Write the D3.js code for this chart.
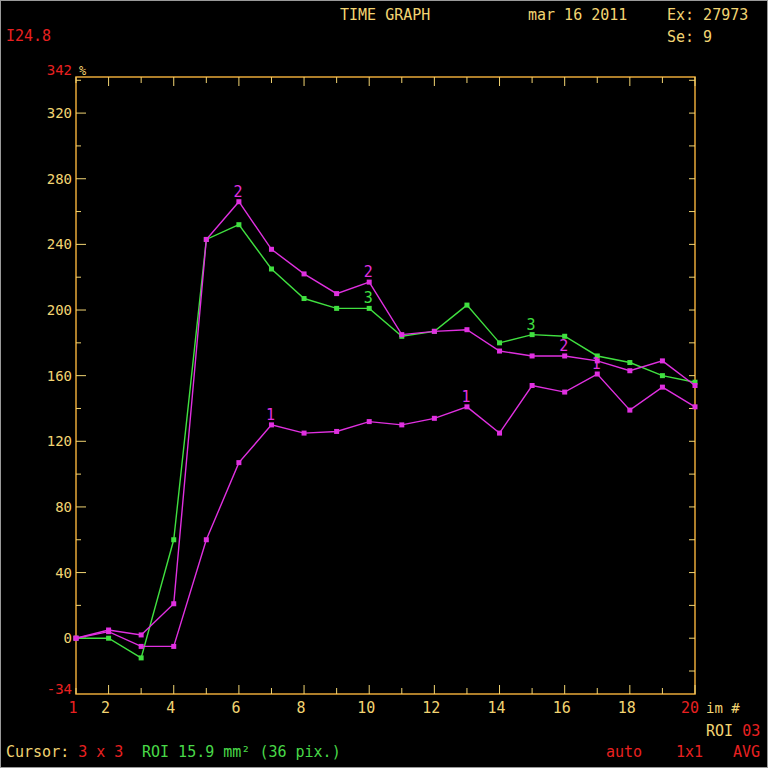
<!DOCTYPE html>
<html><head><meta charset="utf-8">
<script src="https://cdn.jsdelivr.net/npm/d3@7"></script>
<style>
html,body{margin:0;padding:0;background:#000;}
svg{display:block;}
text{font-family:"DejaVu Sans Mono",monospace;}
</style></head>
<body>
<script>
// ---- data ----
const imNumbers = [1,2,3,4,5,6,7,8,9,10,11,12,13,14,15,16,17,18,19,20];
const xTickLabels = [2,4,6,8,10,12,14,16,18];
const yTickLabels = [0,40,80,120,160,200,240,280,320];
const yMin = -34, yMax = 342;
const series1 = [0,4,-5,-5,60,107,130,125,126,132,130,134,141,125,154,150,161,139,153,141];
const series2 = [0,5,2,21,243,266,237,222,210,217,185,187,188,175,172,172,169,163,169,154];
const series3 = [0,0,-12,60,243,252,225,207,201,201,184,187,203,180,185,184,172,168,160,156];
const seriesNames = ["1","2","3"];
const labelAt1 = [7,13,17];
const labelAt2 = [6,10,16];
const labelAt3 = [10,15];

const W = 768, H = 768;
const YEL = "#f2d472", AX = "#e8a838", RED = "#e82020", GRN = "#48d848", MAG = "#e030e0", LGRN = "#40e040";

const svg = d3.select("body").append("svg").attr("width", W).attr("height", H);
svg.append("rect").attr("x",0.5).attr("y",0.5).attr("width",W-1).attr("height",H-1).attr("fill","#000").attr("stroke","#9a9a9a");

const x = d3.scaleLinear().domain([1,20]).range([76,695]);
const y = d3.scaleLinear().domain([yMin,yMax]).range([694,77]);

// frame
const g = svg.append("g");
g.append("rect").attr("x",x(1)).attr("y",y(yMax)).attr("width",x(20)-x(1)).attr("height",y(yMin)-y(yMax))
 .attr("fill","none").attr("stroke",AX).attr("stroke-width",1.5);

// x ticks top & bottom
imNumbers.forEach(n=>{
  const major = n%2===0;
  const len = major?9:6;
  g.append("line").attr("x1",x(n)).attr("x2",x(n)).attr("y1",y(yMin)).attr("y2",y(yMin)-len).attr("stroke",YEL).attr("stroke-width",1);
  g.append("line").attr("x1",x(n)).attr("x2",x(n)).attr("y1",y(yMax)).attr("y2",y(yMax)+len).attr("stroke",YEL).attr("stroke-width",1);
});
// y ticks left (major/minor) and right
d3.range(-20,341,20).forEach(v=>{
  const major = v%40===0;
  if (v>=0) {
    g.append("line").attr("x1",x(1)).attr("x2",x(1)+(major?10:5)).attr("y1",y(v)).attr("y2",y(v)).attr("stroke",YEL).attr("stroke-width",1);
  }
  g.append("line").attr("x1",x(20)).attr("x2",x(20)-6).attr("y1",y(v)).attr("y2",y(v)).attr("stroke",YEL).attr("stroke-width",1);
});

// y labels
yTickLabels.forEach(v=>{
  g.append("text").attr("x",72).attr("y",y(v)).attr("dy","0.36em").attr("text-anchor","end")
   .attr("fill",YEL).attr("font-size",14).text(v);
});
g.append("text").attr("x",72).attr("y",y(yMin)-5).attr("dy","0.36em").attr("text-anchor","end").attr("fill",RED).attr("font-size",14).text(yMin);
g.append("text").attr("x",72).attr("y",75).attr("text-anchor","end").attr("fill",RED).attr("font-size",14).text(yMax);
g.append("text").attr("x",79).attr("y",75).attr("fill",YEL).attr("font-size",12).text("%");

// x labels
xTickLabels.forEach(n=>{
  g.append("text").attr("x",x(n)-3).attr("y",713).attr("text-anchor","middle").attr("fill",YEL).attr("font-size",15).text(n);
});
g.append("text").attr("x",x(1)-3).attr("y",713).attr("text-anchor","middle").attr("fill",RED).attr("font-size",15).text(1);
g.append("text").attr("x",x(20)-5).attr("y",713).attr("text-anchor","middle").attr("fill",RED).attr("font-size",15).text(20);
g.append("text").attr("x",706).attr("y",713).attr("fill",YEL).attr("font-size",14).text("im #");

// series
const line = d3.line().x((d,i)=>x(imNumbers[i])).y(d=>y(d));
const allSeries = [
  {vals:series1, color:MAG, name:seriesNames[0], labels:labelAt1},
  {vals:series2, color:MAG, name:seriesNames[1], labels:labelAt2},
  {vals:series3, color:LGRN, name:seriesNames[2], labels:labelAt3}
];
[allSeries[2], allSeries[0], allSeries[1]].forEach(s=>{
  svg.append("path").datum(s.vals).attr("d",line).attr("fill","none").attr("stroke",s.color).attr("stroke-width",1.4);
  svg.selectAll(null).data(s.vals).enter().append("rect")
    .attr("x",(d,i)=>x(imNumbers[i])-2.5).attr("y",d=>y(d)-2.5).attr("width",5).attr("height",5).attr("fill",s.color);
  s.labels.forEach(n=>{
    svg.append("text").attr("x",x(n)-1).attr("y",y(s.vals[n-1])-5).attr("text-anchor","middle")
      .attr("fill",s.color).attr("font-size",15).text(s.name);
  });
});

// header texts
svg.append("text").attr("x",340).attr("y",20).attr("fill",YEL).attr("font-size",15).text("TIME GRAPH");
svg.append("text").attr("x",528).attr("y",20).attr("fill",YEL).attr("font-size",15).text("mar 16 2011");
svg.append("text").attr("x",667).attr("y",20).attr("fill",YEL).attr("font-size",15).text("Ex: 27973");
svg.append("text").attr("x",667).attr("y",42).attr("fill",YEL).attr("font-size",15).text("Se: 9");
svg.append("text").attr("x",6).attr("y",41).attr("fill",RED).attr("font-size",15).text("I24.8");

// footer
const r1 = svg.append("text").attr("x",706).attr("y",736).attr("font-size",15);
r1.append("tspan").attr("fill",YEL).text("ROI ");
r1.append("tspan").attr("fill",RED).text("03");
const f = svg.append("text").attr("x",6).attr("y",757).attr("font-size",15).attr("xml:space","preserve");
f.append("tspan").attr("fill",YEL).text("Cursor: ");
f.append("tspan").attr("fill",RED).text("3 x 3");
f.append("tspan").attr("fill",GRN).attr("x",142).text("ROI 15.9 mm\u00B2 (36 pix.)");
svg.append("text").attr("x",606).attr("y",757).attr("fill",RED).attr("font-size",15).text("auto");
svg.append("text").attr("x",676).attr("y",757).attr("fill",RED).attr("font-size",15).text("1x1");
svg.append("text").attr("x",733).attr("y",757).attr("fill",RED).attr("font-size",15).text("AVG");
</script>
</body></html>
